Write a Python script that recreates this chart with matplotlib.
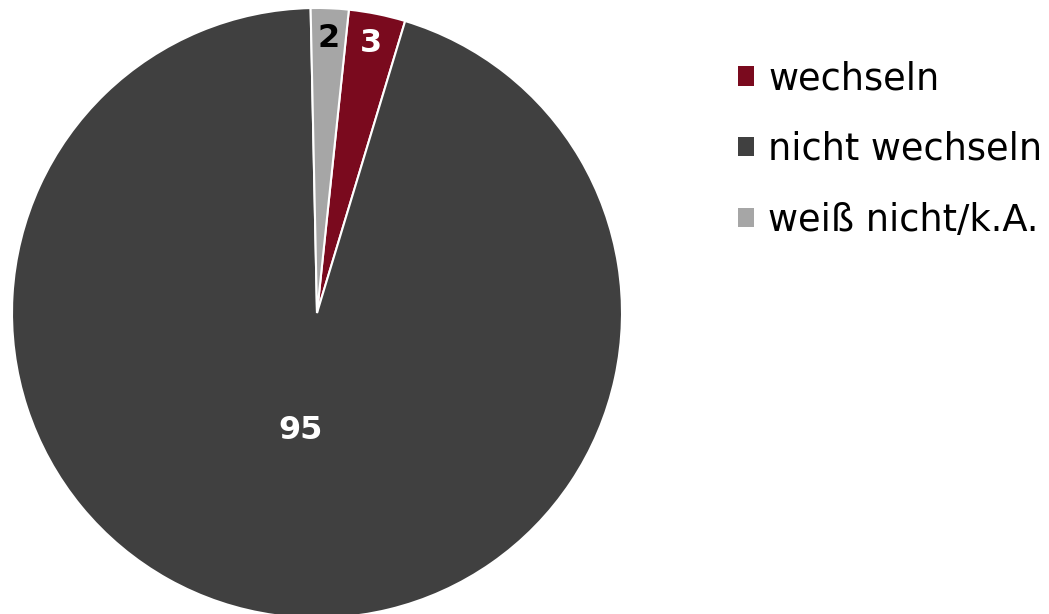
import numpy as np
import matplotlib.pyplot as plt
from matplotlib.patches import Patch

# Antworten in Prozent
labels = ["wechseln", "nicht wechseln", "weiß nicht/k.A."]
values = [3, 95, 2]
colors = ["#7A0A1E", "#404040", "#A6A6A6"]
text_colors = ["white", "white", "black"]

fig = plt.figure(figsize=(10.49, 6.14), dpi=100)
ax = fig.add_axes([12 / 1049, -4 / 614, 610 / 1049, 610 / 614])

wedges, _ = ax.pie(values, colors=colors, startangle=84, counterclock=False,
                   wedgeprops=dict(edgecolor="white", linewidth=1.5))
ax.set_xlim(-1, 1)
ax.set_ylim(-1, 1)
ax.axis("off")

# Beschriftung der Segmente
for w, v, tc in zip(wedges, values, text_colors):
    ang = np.deg2rad((w.theta1 + w.theta2) / 2)
    dist = 0.39 if v > 50 else 0.9
    ax.text(dist * np.cos(ang), dist * np.sin(ang), str(v), color=tc,
            ha="center", va="center", fontsize=23, fontweight="bold")

handles = [Patch(facecolor=c, edgecolor="none") for c in colors]
fig.legend(handles, labels, loc="upper left", bbox_to_anchor=(705 / 1049, 1 - 27 / 614),
           frameon=False, fontsize=26.5, handlelength=0.42, handleheight=0.42,
           handletextpad=0.4, labelspacing=0.92)

fig.savefig("out.png", dpi=100)
